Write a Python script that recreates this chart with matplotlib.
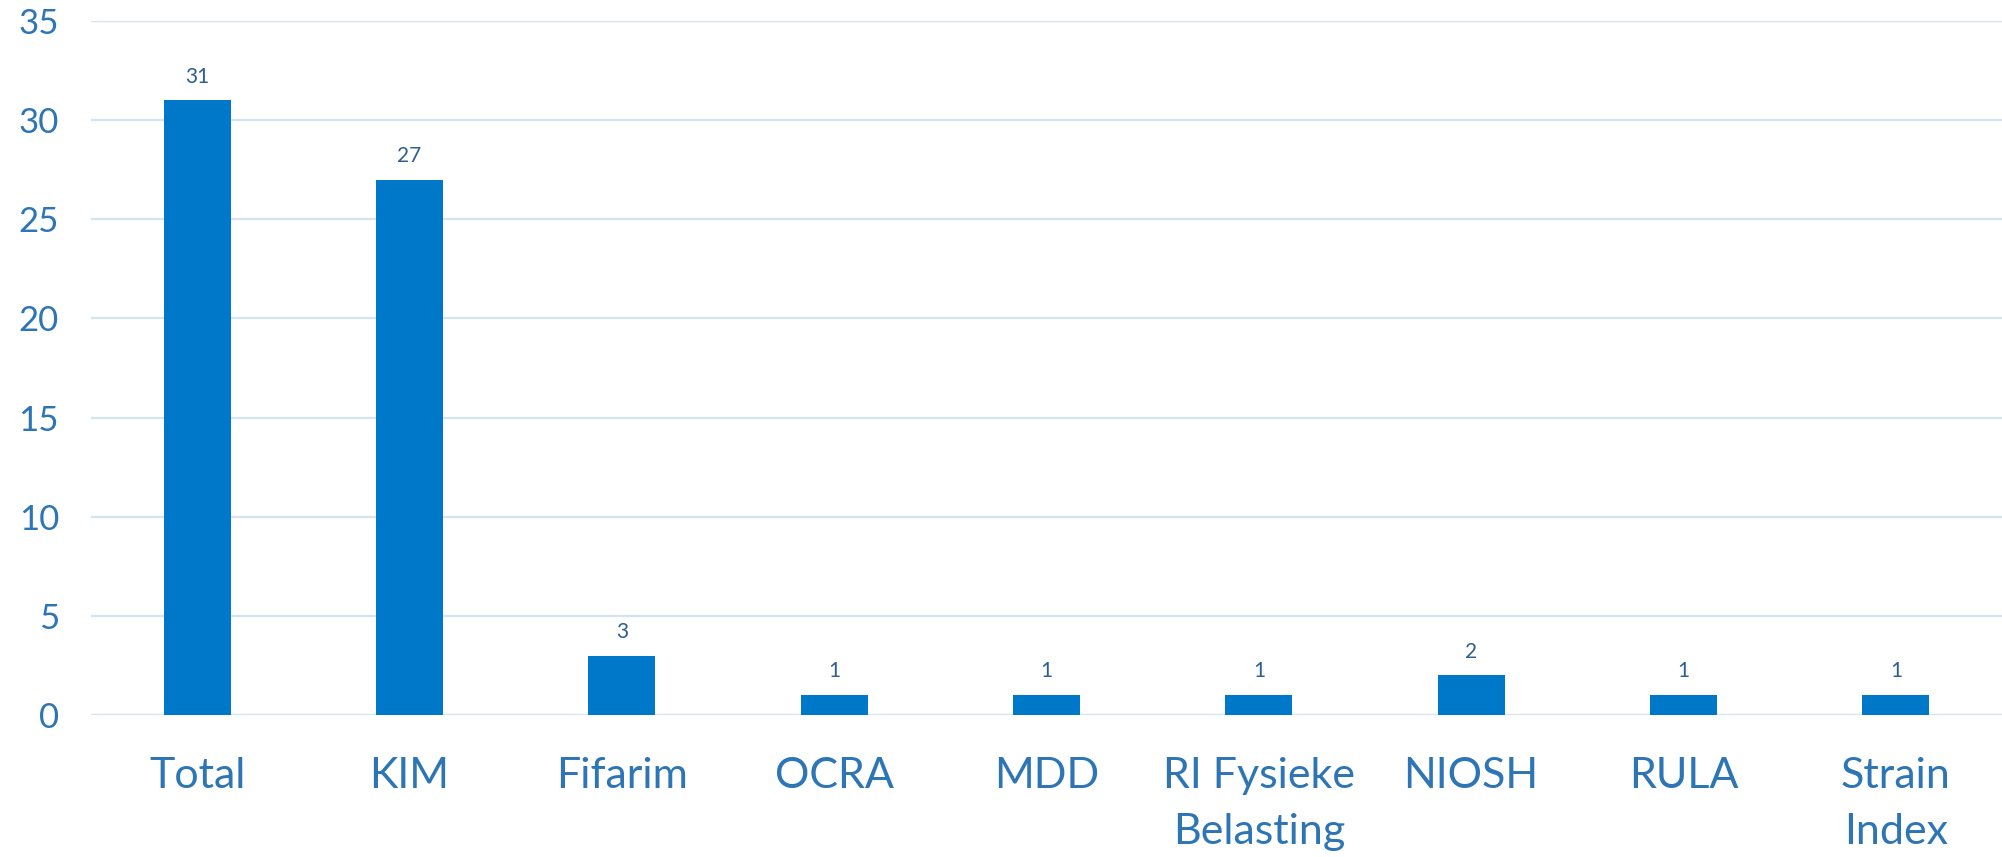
import matplotlib.pyplot as plt

# data
categories = ['Total', 'KIM', 'Fifarim', 'OCRA', 'MDD', 'RI Fysieke\nBelasting',
              'NIOSH', 'RULA', 'Strain\nIndex']
values = [31, 27, 3, 1, 1, 1, 2, 1, 1]
yticks = [0, 5, 10, 15, 20, 25, 30, 35]

plt.rcParams['font.family'] = ['Lato', 'DejaVu Sans']

fig = plt.figure(figsize=(20.02, 8.57), dpi=100)
ax = fig.add_axes([91 / 2002, 1 - 715 / 857, 1 - 91 / 2002, (715 - 21) / 857])

x = range(len(categories))
bars = ax.bar(x, values, width=0.315, color='#0078C9', zorder=3)

for b, v in zip(bars, values):
    ax.text(b.get_x() + b.get_width() / 2, v + 1.2, str(v), ha='center', va='center',
            fontsize=15, color='#2F5D94')

ax.set_xlim(-0.5, len(categories) - 0.5)
ax.set_ylim(0, 35)
ax.set_yticks(yticks)
ax.set_xticks(list(x))
ax.set_xticklabels(categories, fontsize=31, color='#2E75B6', linespacing=1.6)
ax.tick_params(axis='y', labelsize=25, labelcolor='#2E75B6', length=0, pad=23)
ax.tick_params(axis='x', length=0, pad=30)
for lbl in ax.get_xticklabels():
    lbl.set_verticalalignment('top')

ax.grid(axis='y', color='#D6E3F2', linewidth=1.6, zorder=0)
for s in ax.spines.values():
    s.set_visible(False)

fig.savefig('out.png', dpi=100)
